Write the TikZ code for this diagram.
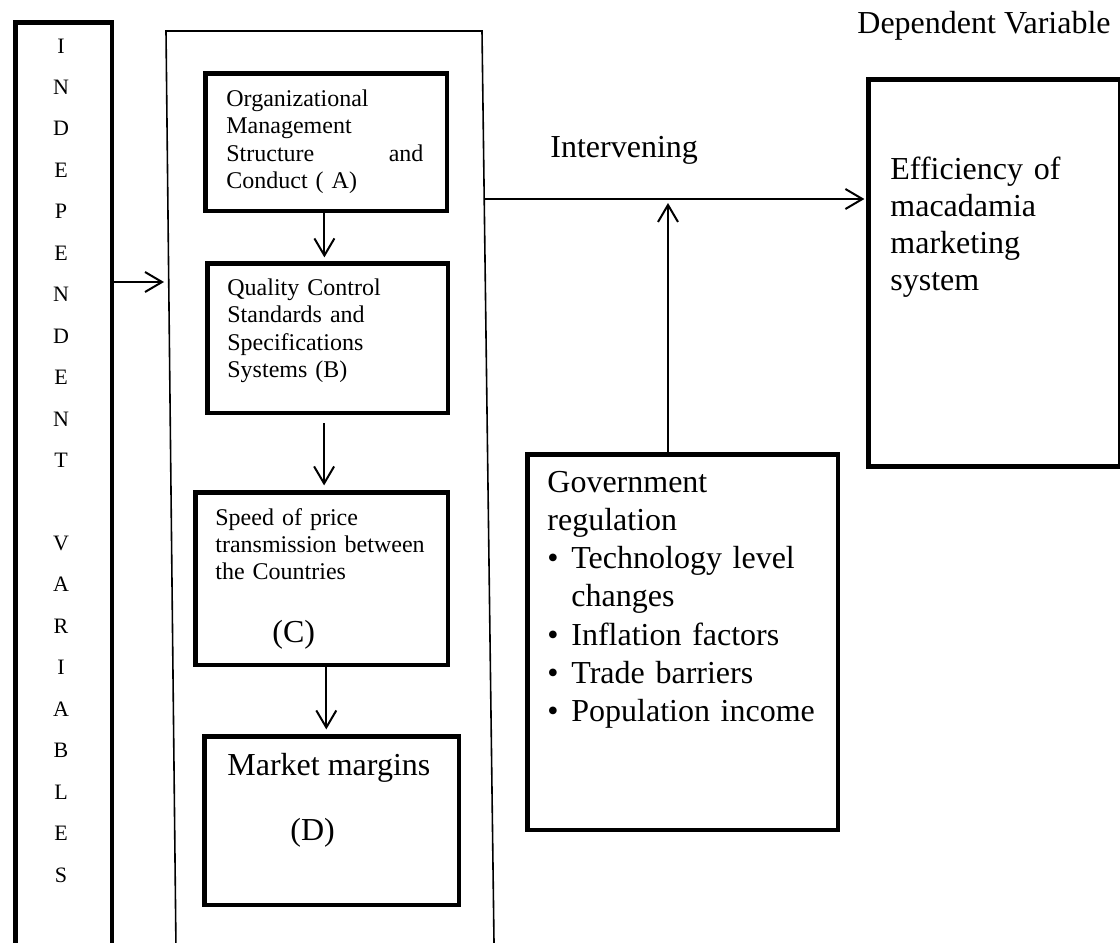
\documentclass[tikz,border=0pt]{standalone}
\usepackage{fontspec}
\setmainfont{Liberation Serif}
\usetikzlibrary{arrows.meta,calc,positioning}
\tikzset{
  box/.style={draw, line width=2.4pt, anchor=north west, inner sep=0pt},
  frame/.style={line width=0.8pt},
  flow/.style={-{Straight Barb[length=8.5pt,width=10pt]}, line width=1pt},
  small/.style={anchor=base west, inner sep=0pt, align=left, font=\fontsize{12}{13.8}\selectfont},
  big/.style={anchor=base west, inner sep=0pt, align=left, font=\fontsize{16}{18.8}\selectfont},
  letter/.style={anchor=base, inner sep=0pt, font=\fontsize{11}{13}\selectfont}
}
\newcommand{\bul}{\makebox[12pt][l]{\textbullet}}

\begin{document}
\begin{tikzpicture}[x=0.5pt, y=-0.5pt]
  \clip (0,0) rectangle (1120,943);

  % independent variables column
  \node[box, minimum width=48.1pt, minimum height=490pt] (indep) at (13.4,20.4) {};
  \foreach \ch [count=\k from 0] in {I,N,D,E,P,E,N,D,E,N,T}
    {\node[letter] (ltr\k) at (61,53+41.45*\k) {\ch};}
  \foreach \ch [count=\k from 12] in {V,A,R,I,A,B,L,E,S}
    {\node[letter] (ltr\k) at (61,53+41.45*\k) {\ch};}

  % outer frame round the four blocks
  \draw[frame] (176,950) -- (166,31) -- (482,31) -- (494.1,950);
  \coordinate (fin) at (164,282);
  \coordinate (fout) at (483.5,199);

  % blocks A to D
  \node[box, minimum width=120.6pt, minimum height=68.6pt] (boxA) at (203.4,71.4) {};
  \node[box, minimum width=120.1pt, minimum height=74.6pt] (boxB) at (205.4,261.4) {};
  \node[box, minimum width=126.3pt, minimum height=86.1pt] (boxC) at (193,490.4) {};
  \node[box, minimum width=127.1pt, minimum height=84.1pt] (boxD) at (202.4,734.4) {};

  \node[small, text width=98.5pt] (txtA) at (226,106)
    {Organizational\\Management\\Structure\hfill and\\Conduct ( A)};
  \node[small, text width=105pt] (txtB) at (227,295)
    {Quality Control\\Standards and\\Specifications\\Systems (B)};
  \node[small, text width=110pt, font=\fontsize{12}{13.6}\selectfont] (txtC) at (215,525)
    {Speed of price\\transmission between\\the Countries};
  \node[big] (labC) at (272,642) {(C)};
  \node[big] (txtD) at (227,775) {Market margins};
  \node[big] (labD) at (290,840) {(D)};

  % intervening and dependent
  \node[box, minimum width=155.1pt, minimum height=187.6pt] (gov) at (525.4,452.4) {};
  \node[big, text width=140pt, font=\fontsize{16}{19.15}\selectfont] (txtgov) at (547,492)
    {Government\\regulation\\\bul Technology level\\\hspace*{12pt}changes\\\bul Inflation factors\\\bul Trade barriers\\\bul Population income};
  \node[box, minimum width=125.6pt, minimum height=193.4pt] (eff) at (866.4,77.4) {};
  \node[big, text width=100pt, font=\fontsize{16}{18.5}\selectfont] (txteff) at (890,179)
    {Efficiency of\\macadamia\\marketing\\system};
  \node[big] (interv) at (550,157) {Intervening};
  \node[big] (dep) at (857,33) {Dependent Variable};
  \coordinate (uptip) at (668,203);

  % connectors
  \draw[flow] (indep.east |- fin) -- (fin);
  \draw[flow, shorten >=2pt] ([xshift=-1pt]boxA.south) -- ([xshift=-1pt]boxA.south |- boxB.north);
  \draw[flow, shorten <=4pt, shorten >=2.5pt] ([xshift=-1.9pt]boxB.south) -- ([xshift=-1.9pt]boxB.south |- boxC.north);
  \draw[flow, shorten >=2.5pt] ([xshift=2.3pt]boxC.south) -- ([xshift=2.3pt]boxC.south |- boxD.north);
  \draw[flow, shorten >=1pt] (fout) -- (eff.west |- fout);
  \draw[flow] (gov.north -| uptip) -- (uptip);
\end{tikzpicture}
\end{document}
